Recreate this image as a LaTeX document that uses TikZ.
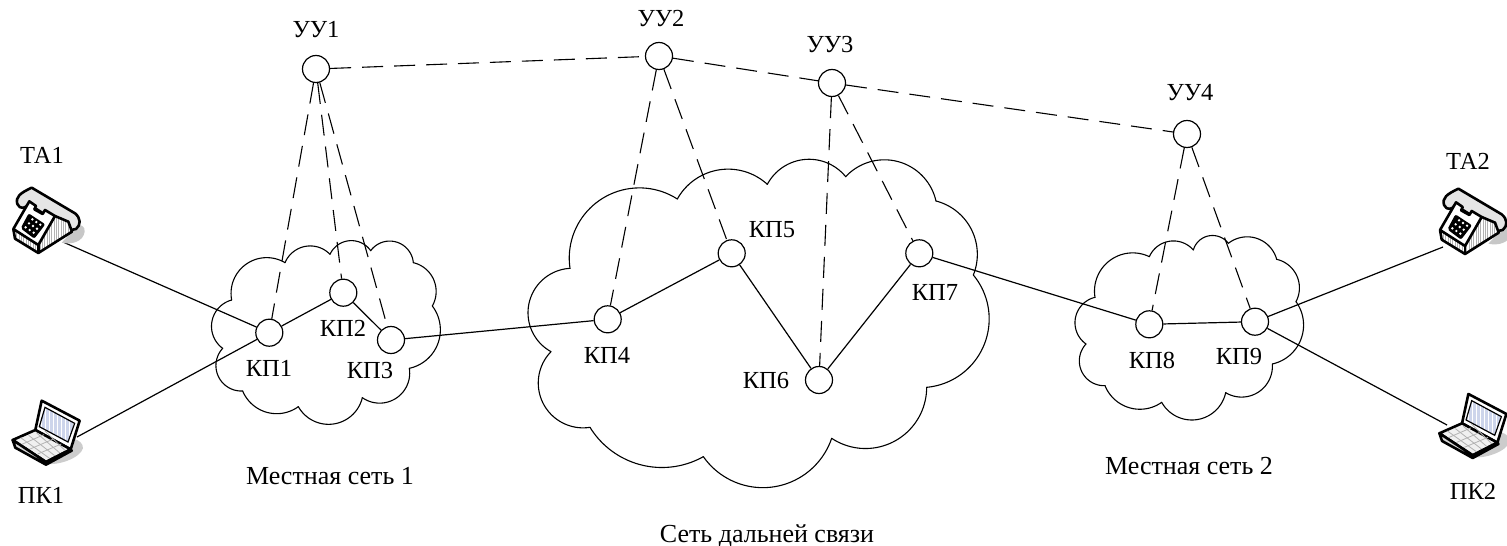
\documentclass[tikz,border=0pt]{standalone}
\usepackage{fontspec}
\setmainfont{Liberation Serif}
\definecolor{scrn}{RGB}{205,213,235}
\tikzset{
 x=1pt,y=-1pt,
 knot/.style={circle,draw=black,fill=white,line width=1.2pt,minimum size=27pt,inner sep=0pt},
 solidlink/.style={line width=1.2pt},
 dashlink/.style={line width=1.1pt,dash pattern=on 21pt off 11pt},
 cloudline/.style={line width=1.1pt,line cap=round},
 lbl/.style={font=\fontsize{24.5}{26}\selectfont,inner sep=0pt,text=black},
 netname/.style={font=\fontsize{26}{28}\selectfont,inner sep=0pt,text=black},
 ic/.style={line width=2.6pt,line join=round,draw=black},
 zoomed/.style={x=1/3*1pt,y=-1/3*1pt},
}
% circular lobe through P0, M, P1
\newcommand{\lobe}[6]{%
 \pgfmathsetmacro{\bx}{(#5-#1)/100}\pgfmathsetmacro{\by}{(#6-#2)/100}%
 \pgfmathsetmacro{\cx}{(#3-#1)/100}\pgfmathsetmacro{\cy}{(#4-#2)/100}%
 \pgfmathsetmacro{\dd}{2*(\bx*\cy-\by*\cx)}%
 \pgfmathsetmacro{\bb}{\bx*\bx+\by*\by}\pgfmathsetmacro{\cc}{\cx*\cx+\cy*\cy}%
 \pgfmathsetmacro{\ux}{(\cy*\bb-\by*\cc)/\dd}\pgfmathsetmacro{\uy}{(\bx*\cc-\cx*\bb)/\dd}%
 \pgfmathsetmacro{\rr}{100*sqrt(\ux*\ux+\uy*\uy)}%
 \pgfmathsetmacro{\as}{atan2(-\uy,-\ux)}%
 \pgfmathsetmacro{\dm}{Mod(atan2(\cy-\uy,\cx-\ux)-\as,360)}%
 \pgfmathsetmacro{\de}{Mod(atan2(\by-\uy,\bx-\ux)-\as,360)}%
 \pgfmathsetmacro{\ae}{\dm<\de ? \as+\de : \as+\de-360}%
 \pgfmathsetmacro{\ccx}{#1+100*\ux}\pgfmathsetmacro{\ccy}{#2+100*\uy}%
 \draw[cloudline] plot[domain=\as:\ae,samples=40,variable=\t] ({\ccx+\rr*cos(\t)},{\ccy+\rr*sin(\t)});}
\newcommand{\phoneicon}{%
 \fill[black!22] (185,338) .. controls (215,345) and (250,335) .. (254,305) .. controls (255,290) and (245,285) .. (235,285) -- cycle;
 % handset
 \draw[ic,fill=black!10] (52,222) .. controls (46,200) and (60,190) .. (95,173)
   -- (225,250) .. controls (243,265) and (243,285) .. (228,297)
   .. controls (212,302) and (195,300) .. (185,285) -- (85,222)
   .. controls (78,235) and (60,240) .. (52,222) -- cycle;
 % base sides
 \begin{scope}
 \clip (40,297) -- (115,345) -- (165,258) -- (205,275) -- (216,305) -- (115,369) -- (45,326) -- cycle;
 \fill[black!30] (30,250) rectangle (225,375);
 \foreach \s in {40,47,...,220} \draw[white,line width=1.2pt] (\s,250) -- (\s,375);
 \end{scope}
 \draw[ic] (40,297) -- (45,326) -- (115,369) -- (216,305) -- (205,275) -- (165,258);
 \draw[ic] (115,345) -- (115,369);
 % face
 \draw[ic,fill=white] (88,214) -- (108,228) -- (103,238) -- (128,252) -- (135,240) -- (165,258) -- (115,345) -- (40,297) -- cycle;
 % keypad
 \fill[black,rounded corners=2pt] (86,250) -- (136,283) -- (103,326) -- (62,295) -- cycle;
 \foreach \i in {-1,0,1} \foreach \j in {-1,0,1}
   \fill[white] ({99+\i*12-\j*10},{288+\i*8+\j*12}) circle (4);
}
\newcommand{\laptopicon}{%
 \fill[black!20] (130,250) .. controls (170,260) and (240,235) .. (249,205) .. controls (250,190) and (235,180) .. (225,178) -- cycle;
 % screen
 \draw[ic,fill=white] (125,62) -- (239,122) -- (212,208) -- (106,150) -- cycle;
 \begin{scope}
 \clip (135,82) -- (224,130) -- (204,186) -- (118,140) -- cycle;
 \fill[scrn] (110,70) rectangle (230,190);
 \foreach \s in {125,137,...,225} \draw[white,line width=1.5pt] (\s,70) -- (\s,190);
 \end{scope}
 \draw[line width=1.2pt] (135,82) -- (224,130) -- (204,186) -- (118,140) -- cycle;
 % base
 \draw[ic,fill=black!6] (38,180) -- (106,150) -- (212,208) -- (138,246) -- cycle;
 \foreach \k in {1,2,3,4} \draw[black!30,line width=.8pt]
   ({38+\k*20+\k*4},{180-\k*7+\k*0}) -- ({138+\k*15},{246-\k*8});
 \foreach \k in {1,2,3} \draw[black!30,line width=.8pt]
   ({38+\k*25},{180+\k*14}) -- ({106+\k*26},{150+\k*14});
 \draw[ic,fill=black!15] (38,180) -- (46,203) -- (138,254) -- (215,212) -- (212,208) -- (138,246) -- cycle;
}
\begin{document}
\begin{tikzpicture}
\useasboundingbox (0,0) rectangle (1507,546);
\fill[white] (0,0) rectangle (1507,546);
% clouds
\begin{scope}[shift={(200,220)},zoomed]
\foreach \a/\b/\c/\d/\e/\f in {95/240/135/135/255/128,255/128/325/78/390/103,390/103/450/62/512/92,512/92/585/65/640/128,640/128/705/190/697/258,697/258/712/375/628/445,628/445/555/548/487/533,487/533/385/613/295/560,295/560/215/580/128/513,128/513/50/455/68/385,68/385/35/310/95/240}
 {\lobe{\a}{\b}{\c}{\d}{\e}{\f}}
\end{scope}
\begin{scope}[shift={(510,140)},zoomed]
\foreach \a/\b/\c/\d/\e/\f in {180/385/270/180/502/177,502/177/640/88/772/133,772/133/890/58/1007/110,1007/110/1165/65/1278/183,1278/183/1385/270/1390/405,1390/405/1420/620/1250/742,1250/742/1160/900/965/895,965/895/760/1043/580/950,580/950/420/980/240/862,240/862/105/800/123/635,123/635/57/490/180/385}
 {\lobe{\a}{\b}{\c}{\d}{\e}{\f}}
\end{scope}
\begin{scope}[shift={(1060,220)},zoomed]
\foreach \a/\b/\c/\d/\e/\f in {105/232/145/125/268/110,268/110/335/63/400/90,400/90/450/47/505/70,505/70/590/55/650/118,650/118/715/180/708/245,708/245/722/360/637/432,637/432/560/530/497/518,497/518/395/600/305/547,305/547/215/565/135/497,135/497/60/440/78/372,78/372/45/305/105/232}
 {\lobe{\a}{\b}{\c}{\d}{\e}{\f}}
\end{scope}
% terminal anchors
\coordinate (ta1) at (63,242);
\coordinate (pk1) at (77,437);
\coordinate (ta2) at (1443,247);
\coordinate (pk2) at (1447,425);
% nodes
\node[knot] (k1) at (269.3,332.7) {};
\node[knot] (k2) at (343.3,292.7) {};
\node[knot] (k3) at (391,340) {};
\node[knot] (k4) at (607.7,319.3) {};
\node[knot] (k5) at (731.7,253.3) {};
\node[knot] (k6) at (819,380) {};
\node[knot] (k7) at (919.3,253.3) {};
\node[knot] (k8) at (1149.3,324.3) {};
\node[knot] (k9) at (1255,321.7) {};
\node[knot] (u1) at (316,69) {};
\node[knot] (u2) at (659,56) {};
\node[knot] (u3) at (832,83) {};
\node[knot] (u4) at (1187,134) {};
% solid
\draw[solidlink] (ta1)--(k1) (pk1)--(k1) (k1)--(k2) (k2)--(k3) (k3)--(k4) (k4)--(k5) (k5)--(k6) (k6)--(k7) (k7)--(k8) (k8)--(k9) (k9)--(ta2) (k9)--(pk2);
% icons
\begin{scope}[shift={(0,130)},zoomed]\phoneicon\end{scope}
\begin{scope}[shift={(1426.7,131)},zoomed]\phoneicon\end{scope}
\begin{scope}[shift={(0,380)},zoomed]\laptopicon\end{scope}
\begin{scope}[shift={(1426.7,373.3)},zoomed]\laptopicon\end{scope}
% dashed
\draw[dashlink] (u1)--(u2);
\draw[dashlink] (u2)--(u3);
\draw[dashlink] (u3)--(u4);
\draw[dashlink] (u1)--(k1);
\draw[dashlink] (u1)--(k2);
\draw[dashlink] (u1)--(k3);
\draw[dashlink] (u2)--(k4);
\draw[dashlink] (u2)--(k5);
\draw[dashlink] (u3)--(k6);
\draw[dashlink] (u3)--(k7);
\draw[dashlink] (u4)--(k8);
\draw[dashlink] (u4)--(k9);
% labels
\node[lbl] (lu1) at (316,30) {УУ1};
\node[lbl] (lu2) at (661,19) {УУ2};
\node[lbl] (lu3) at (830,45) {УУ3};
\node[lbl] (lu4) at (1190,93) {УУ4};
\node[lbl] (lta1) at (42,155) {ТА1};
\node[lbl] (lpk1) at (41,495) {ПК1};
\node[lbl] (lta2) at (1468,161) {ТА2};
\node[lbl] (lpk2) at (1473,491) {ПК2};
\node[lbl] (l1) at (269,368) {КП1};
\node[lbl] (l2) at (343,328) {КП2};
\node[lbl] (l3) at (370,371) {КП3};
\node[lbl] (l4) at (607,355) {КП4};
\node[lbl] (l5) at (772,230) {КП5};
\node[lbl] (l6) at (766,381) {КП6};
\node[lbl] (l7) at (935,292) {КП7};
\node[lbl] (l8) at (1152,360) {КП8};
\node[lbl] (l9) at (1239,357) {КП9};
\node[netname] (n1) at (330,476) {Местная сеть 1};
\node[netname] (n2) at (1189,466) {Местная сеть 2};
\node[netname] (n3) at (767,536) {Сеть дальней связи};
\end{tikzpicture}
\end{document}
